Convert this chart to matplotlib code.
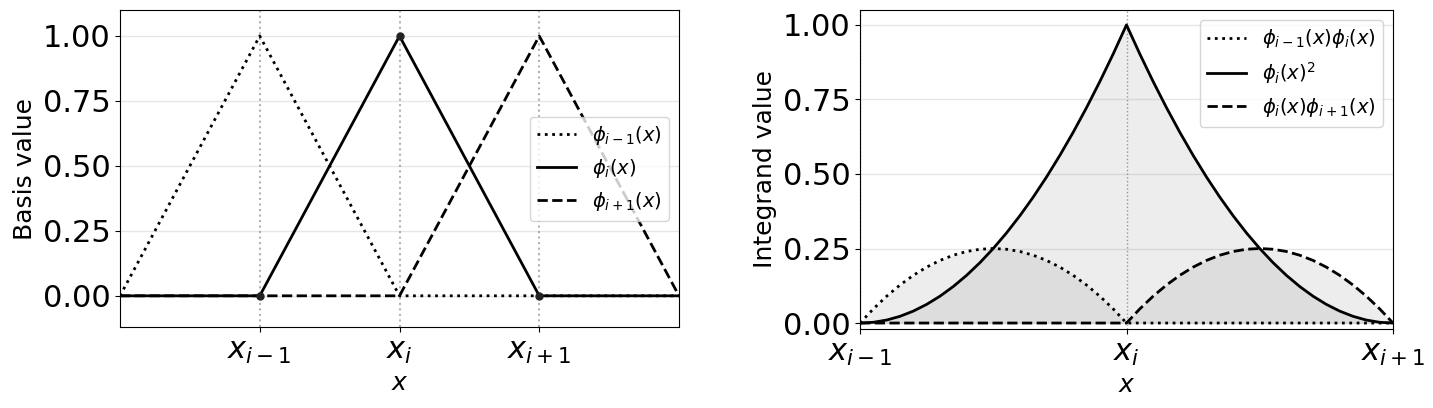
import numpy as np
import matplotlib
matplotlib.use("Agg")
import matplotlib.pyplot as plt

# ---------------- data ----------------
# left panel: nodal hat functions (piecewise linear vertices)
x_nodes = [0, 1, 2, 3, 4]
node_ticks = [1, 2, 3]
node_labels = [r"$x_{i-1}$", r"$x_i$", r"$x_{i+1}$"]
phi_im1 = [0, 1, 0, 0, 0]
phi_i = [0, 0, 1, 0, 0]
phi_ip1 = [0, 0, 0, 1, 0]

# right panel: integrands sampled over [x_{i-1}, x_{i+1}]
x_int = np.linspace(0, 2, 41)
phi_i_sq = [0, .0025, .01, .0225, .04, .0625, .09, .1225, .16, .2025, .25,
            .3025, .36, .4225, .49, .5625, .64, .7225, .81, .9025, 1.0,
            .9025, .81, .7225, .64, .5625, .49, .4225, .36, .3025, .25,
            .2025, .16, .1225, .09, .0625, .04, .0225, .01, .0025, 0]
prod_left = [0, .0475, .09, .1275, .16, .1875, .21, .2275, .24, .2475, .25,
             .2475, .24, .2275, .21, .1875, .16, .1275, .09, .0475, 0,
             0, 0, 0, 0, 0, 0, 0, 0, 0, 0,
             0, 0, 0, 0, 0, 0, 0, 0, 0, 0]
prod_right = [0, 0, 0, 0, 0, 0, 0, 0, 0, 0,
              0, 0, 0, 0, 0, 0, 0, 0, 0, 0,
              0, .0475, .09, .1275, .16, .1875, .21, .2275, .24, .2475, .25,
              .2475, .24, .2275, .21, .1875, .16, .1275, .09, .0475, 0]
int_ticks = [0, 1, 2]
yticks = [0, 0.25, 0.5, 0.75, 1.0]

# ---------------- figure ----------------
plt.rcParams['font.family'] = ['DejaVu Sans']
W, H = 1433, 408
fig = plt.figure(figsize=(W / 100, H / 100), dpi=100)

ax1 = fig.add_axes([120 / W, (H - 327) / H, (679 - 120) / W, (327 - 10) / H])
ax2 = fig.add_axes([860 / W, (H - 329) / H, (1393 - 860) / W, (329 - 10) / H])

grid_kw = dict(axis='y', color='#e6e6e6', linewidth=1.0)

# left panel
for xn in node_ticks:
    ax1.axvline(xn, color='gray', linestyle=':', linewidth=1.5, alpha=0.6, zorder=1)
ax1.plot(x_nodes, phi_im1, color='black', linestyle=':', linewidth=2,
         label=r"$\phi_{i-1}(x)$", zorder=3)
ax1.plot(x_nodes, phi_i, color='black', linestyle='-', linewidth=2,
         label=r"$\phi_i(x)$", zorder=3)
ax1.plot(x_nodes, phi_ip1, color='black', linestyle='--', linewidth=2,
         label=r"$\phi_{i+1}(x)$", zorder=3)
ax1.plot(x_nodes[1:4], phi_i[1:4], linestyle='none', marker='o',
         markersize=5, color='#222222', zorder=4)
ax1.set_xlim(0, 4)
ax1.set_ylim(-0.12, 1.1)
ax1.set_xticks(node_ticks)
ax1.set_xticklabels(node_labels)
ax1.set_yticks(yticks)
ax1.yaxis.set_major_formatter(matplotlib.ticker.FormatStrFormatter('%.2f'))
ax1.grid(**grid_kw)
ax1.set_axisbelow(True)
ax1.tick_params(labelsize=22)
ax1.set_xlabel(r"$x$", fontsize=18)
ax1.set_ylabel("Basis value", fontsize=18)
ax1.legend(loc='center right', fontsize=14)

# right panel
for xn in int_ticks[:2]:
    ax2.axvline(xn, color='gray', linestyle=':', linewidth=1.0, alpha=0.8, zorder=1)
ax2.fill_between(x_int, 0, phi_i_sq, color='gray', alpha=0.14, linewidth=0, zorder=2)
ax2.fill_between(x_int, 0, prod_left, color='gray', alpha=0.14, linewidth=0, zorder=2)
ax2.fill_between(x_int, 0, prod_right, color='gray', alpha=0.14, linewidth=0, zorder=2)
ax2.plot(x_int, prod_left, color='black', linestyle=':', linewidth=2,
         label=r"$\phi_{i-1}(x)\phi_i(x)$", zorder=3)
ax2.plot(x_int, phi_i_sq, color='black', linestyle='-', linewidth=2,
         label=r"$\phi_i(x)^2$", zorder=3)
ax2.plot(x_int, prod_right, color='black', linestyle='--', linewidth=2,
         label=r"$\phi_i(x)\phi_{i+1}(x)$", zorder=3)
ax2.set_xlim(0, 2)
ax2.set_ylim(-0.02, 1.05)
ax2.set_xticks(int_ticks)
ax2.set_xticklabels(node_labels)
ax2.set_yticks(yticks)
ax2.yaxis.set_major_formatter(matplotlib.ticker.FormatStrFormatter('%.2f'))
ax2.grid(**grid_kw)
ax2.set_axisbelow(True)
ax2.tick_params(labelsize=22)
ax2.set_xlabel(r"$x$", fontsize=18)
ax2.set_ylabel("Integrand value", fontsize=18)
ax2.legend(loc='upper right', fontsize=14)

fig.savefig("out.png", dpi=100)
